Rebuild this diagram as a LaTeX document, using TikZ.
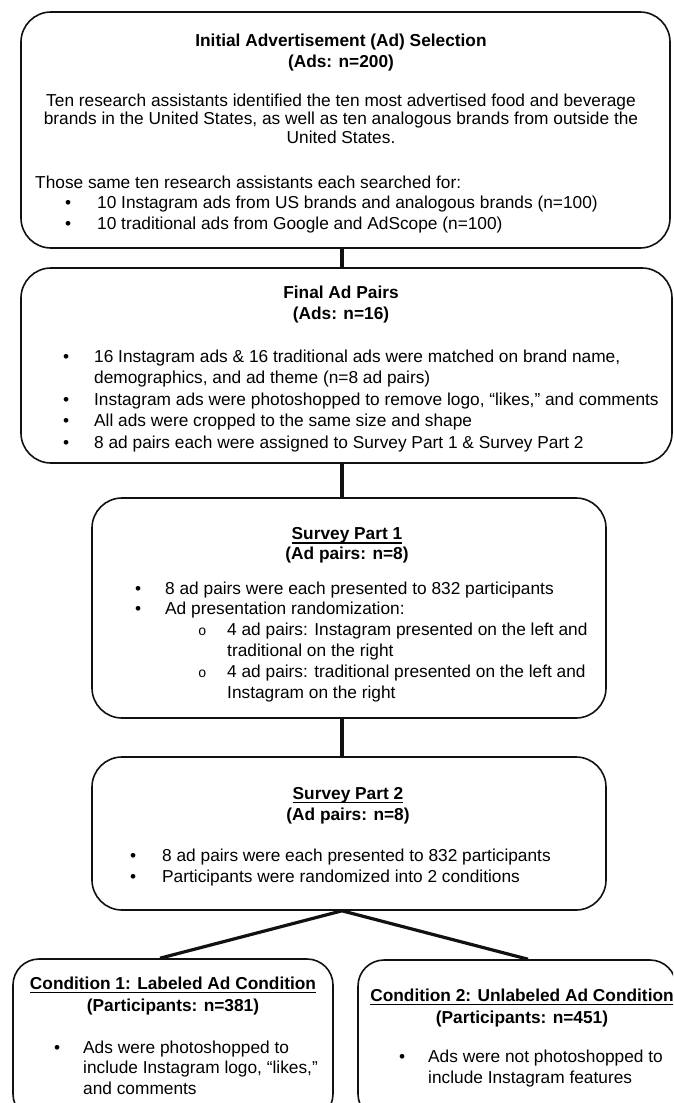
\documentclass[tikz,border=0pt]{standalone}
\usepackage{fontspec}
\setmainfont{Liberation Sans}
\newfontfamily\circfont{Liberation Mono}
\usetikzlibrary{calc}
\definecolor{boxLine}{HTML}{111111}
\newcommand{\undertext}[1]{\setbox0\hbox{#1}\rlap{\rule[-4pt]{\wd0}{1.4pt}}\box0}
\newcommand{\dotmark}[1]{\makebox[#1][l]{•}}
\newcommand{\circmark}[1]{\makebox[#1][l]{\fontsize{14}{14}\selectfont\circfont o}}
\tikzset{
    StageBox/.style={draw=boxLine, line width=1.6pt, rounded corners=30pt, inner sep=0pt},
    HeadText/.style={font=\fontsize{17.3}{#1}\selectfont\bfseries, align=center, inner sep=0pt, anchor=base},
    HeadText/.default=20.5,
    MidText/.style={font=\fontsize{17.3}{#1}\selectfont, align=center, inner sep=0pt, anchor=base},
    MidText/.default=18.5,
    ListText/.style={font=\fontsize{17.3}{#1}\selectfont, align=left, inner sep=0pt, anchor=base west},
    ListText/.default=20.5,
    FlowLine/.style={line width=3.2pt, draw=boxLine}
}

\begin{document}
\begin{tikzpicture}[x=1pt, y=-1pt]
    \useasboundingbox (0,0) rectangle (673,1103);
    \clip (0,0) rectangle (673,1103);

    % boxes
    \node[StageBox, minimum width=649pt, minimum height=236pt] (init) at (345.5,130) {};
    \node[StageBox, minimum width=651pt, minimum height=195pt] (final) at (346.5,365.5) {};
    \node[StageBox, minimum width=514pt, minimum height=220pt] (part1) at (349,608) {};
    \node[StageBox, minimum width=514pt, minimum height=153pt] (part2) at (349,833.5) {};
    \node[StageBox, minimum width=320pt, minimum height=161pt, rounded corners=26pt] (cond1) at (173,1039.5) {};
    \node[StageBox, minimum width=318pt, minimum height=160pt, rounded corners=26pt] (cond2) at (517,1040) {};

    % Initial selection (text nodes sit on the baseline of their last line)
    \node[HeadText] (initHead) at (341,67) {Initial Advertisement (Ad) Selection\\(Ads: n=200)};
    \node[MidText] (initText) at (341,143) {Ten research assistants identified the ten most advertised food and beverage\\brands in the United States, as well as ten analogous brands from outside the\\United States.};
    \node[ListText] (initList) at (35,229) {Those same ten research assistants each searched for:\\
        \hspace*{30pt}\dotmark{32pt}10 Instagram ads from US brands and analogous brands (n=100)\\
        \hspace*{30pt}\dotmark{32pt}10 traditional ads from Google and AdScope (n=100)};

    % Final pairs
    \node[HeadText] (finalHead) at (341,319) {Final Ad Pairs\\(Ads: n=16)};
    \node[ListText=21.5] (finalList) at (63,448) {\dotmark{31pt}16 Instagram ads \& 16 traditional ads were matched on brand name,\\
        \hspace*{31pt}demographics, and ad theme (n=8 ad pairs)\\
        \dotmark{31pt}Instagram ads were photoshopped to remove logo, “likes,” and comments\\
        \dotmark{31pt}All ads were cropped to the same size and shape\\
        \dotmark{31pt}8 ad pairs each were assigned to Survey Part 1 \& Survey Part 2};

    % Survey part 1
    \node[HeadText=19.5] (part1Head) at (347,559) {\undertext{Survey Part 1}\\(Ad pairs: n=8)};
    \node[ListText=20.8] (part1List) at (135,698) {\dotmark{30pt}8 ad pairs were each presented to 832 participants\\
        \dotmark{30pt}Ad presentation randomization:\\
        \hspace*{63pt}\circmark{29pt}4 ad pairs: Instagram presented on the left and\\
        \hspace*{92pt}traditional on the right\\
        \hspace*{63pt}\circmark{29pt}4 ad pairs: traditional presented on the left and\\
        \hspace*{92pt}Instagram on the right};

    % Survey part 2
    \node[HeadText=21] (part2Head) at (348,820) {\undertext{Survey Part 2}\\(Ad pairs: n=8)};
    \node[ListText=21] (part2List) at (130,882) {\dotmark{32pt}8 ad pairs were each presented to 832 participants\\
        \dotmark{32pt}Participants were randomized into 2 conditions};

    % Conditions
    \node[HeadText=22] (cond1Head) at (173,1011) {\undertext{Condition 1: Labeled Ad Condition}\\(Participants: n=381)};
    \node[ListText] (cond1List) at (54,1094) {\dotmark{29pt}Ads were photoshopped to\\
        \hspace*{29pt}include Instagram logo, “likes,”\\
        \hspace*{29pt}and comments};
    \node[HeadText=22] (cond2Head) at (522,1023) {\undertext{Condition 2: Unlabeled Ad Condition}\\(Participants: n=451)};
    \node[ListText] (cond2List) at (399,1083) {\dotmark{29pt}Ads were not photoshopped to\\
        \hspace*{29pt}include Instagram features};

    % connectors
    \coordinate (spine) at (342,0);
    \draw[FlowLine] (init.south -| spine) -- (final.north -| spine);
    \draw[FlowLine] (final.south -| spine) -- (part1.north -| spine);
    \draw[FlowLine] (part1.south -| spine) -- (part2.north -| spine);
    \draw[FlowLine] ([xshift=-13pt]cond1.north) -- (part2.south -| spine) -- ([xshift=11pt]cond2.north);
\end{tikzpicture}
\end{document}
